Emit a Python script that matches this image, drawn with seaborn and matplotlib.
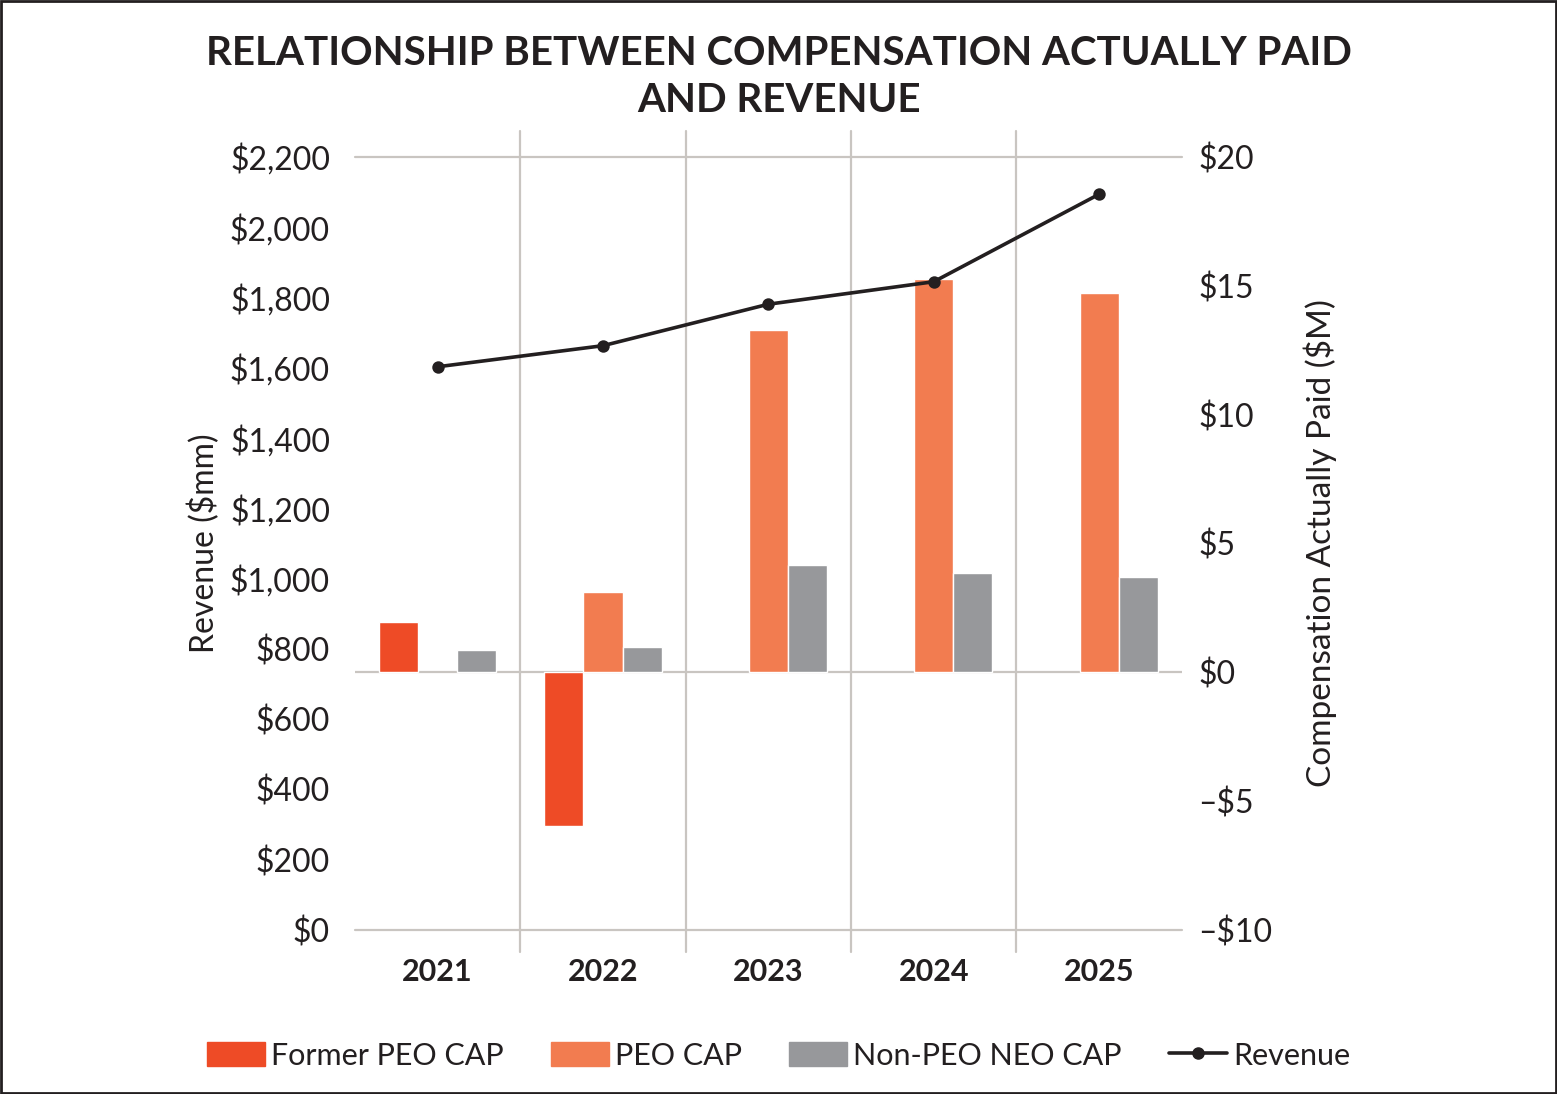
import numpy as np
import pandas as pd
import matplotlib
matplotlib.use('Agg')
import matplotlib.pyplot as plt
from matplotlib.patches import Rectangle
from matplotlib.lines import Line2D
from matplotlib.ticker import FuncFormatter
import seaborn as sns

# ---- data ----
years = ['2021', '2022', '2023', '2024', '2025']
former_peo_cap = [1.95, -5.95, np.nan, np.nan, np.nan]   # $M
peo_cap = [np.nan, 3.12, 13.27, 15.25, 14.74]            # $M
non_peo_neo_cap = [0.88, 1.0, 4.18, 3.87, 3.71]          # $M
revenue = [1603, 1663, 1781, 1845, 2094]                 # $mm

series_names = ['Former PEO CAP', 'PEO CAP', 'Non-PEO NEO CAP']
COLORS = ['#EE4B26', '#F27C50', '#97989B']
LINE_COLOR = '#231F20'
GRID = '#C9C5C1'
TEXT = '#231F20'

df = pd.DataFrame({
    'year': years * 3,
    'cap': former_peo_cap + peo_cap + non_peo_neo_cap,
    'series': [s for s in series_names for _ in years],
}).dropna()

sns.set_theme(style='white')
plt.rcParams['font.family'] = ['Lato', 'DejaVu Sans']

fig = plt.figure(figsize=(15.57, 10.94), dpi=100)
ax = fig.add_axes([0.228, 0.1499, 0.531, 0.7066])   # CAP axis (ticks on right)

sns.barplot(data=df, x='year', y='cap', hue='series', order=years,
            hue_order=series_names, palette=COLORS, width=0.71,
            saturation=1, errorbar=None, ax=ax, legend=False)
ax.set_xlim(-0.5, 4.5)
ax.axhline(0, color=GRID, lw=1.6, zorder=0.5)

# revenue line on its own axis, drawn above the bars
ax2 = ax.twinx()
sns.pointplot(x=years, y=revenue, order=years, color=LINE_COLOR, markers='o',
              markersize=7, linewidth=2.6, ax=ax2)
ax2.set_ylim(0, 2200)
ax2.set_yticks(range(0, 2201, 200))
ax2.yaxis.set_major_formatter(FuncFormatter(lambda v, p: f'${v:,.0f}'))
ax2.yaxis.tick_left()
ax2.yaxis.set_label_position('left')
ax2.set_ylabel('Revenue ($mm)', fontsize=23, color=TEXT, labelpad=7)
ax2.set_xlim(-0.5, 4.5)
ax2.axhline(2200, color=GRID, lw=1.6, zorder=0.5, clip_on=False)
ax2.axhline(0, color=GRID, lw=1.6, zorder=0.5, clip_on=False)

# CAP axis on the right (after twinx, which moves it to the left)
ax.set_ylim(-10, 20)
ax.set_yticks([-10, -5, 0, 5, 10, 15, 20])
ax.yaxis.set_major_formatter(FuncFormatter(lambda v, p: f'\u2013${-v:.0f}' if v < 0 else f'${v:.0f}'))
ax.yaxis.tick_right()
ax.yaxis.set_label_position('right')
ax.set_ylabel('Compensation Actually Paid ($M)', fontsize=24, color=TEXT, labelpad=22)
ax.set_xlabel('')

# vertical separators between years (extend past the plot area like the original)
for b in np.arange(0.5, len(years) - 1, 1.0):
    ax.axvline(b, ymin=-22 / 773, ymax=1 + 26 / 773, color=GRID, lw=1.6,
               zorder=0.4, clip_on=False)

for a in (ax, ax2):
    for s in a.spines.values():
        s.set_visible(False)
    a.tick_params(axis='both', length=0, labelsize=23, colors=TEXT)
    a.grid(False)
ax.tick_params(axis='y', pad=12)
ax2.tick_params(axis='y', pad=18)
ax.tick_params(axis='x', pad=20)
ax.set_xticks(range(len(years)))
ax.set_xticklabels(years, fontsize=22, fontweight='bold', color=TEXT)

fig.suptitle('RELATIONSHIP BETWEEN COMPENSATION ACTUALLY PAID\nAND REVENUE',
             x=0.5, y=0.968, fontsize=29, fontweight='bold', color=TEXT,
             linespacing=1.32)

handles = [Rectangle((0, 0), 1, 1, color=c) for c in COLORS]
handles.append(Line2D([0], [0], color=LINE_COLOR, lw=2.6, marker='o', markersize=8))
fig.legend(handles, series_names + ['Revenue'], loc='center', bbox_to_anchor=(0.5, 0.035),
           ncol=4, frameon=False, fontsize=22, handlelength=1.9, handleheight=0.85,
           handletextpad=0.2, columnspacing=1.55, labelcolor=TEXT)

fig.add_artist(Rectangle((0.0005, 0.0008), 0.999, 0.9985, transform=fig.transFigure,
                         fill=False, edgecolor='#231F20', lw=2))

fig.savefig('out.png', dpi=100)
